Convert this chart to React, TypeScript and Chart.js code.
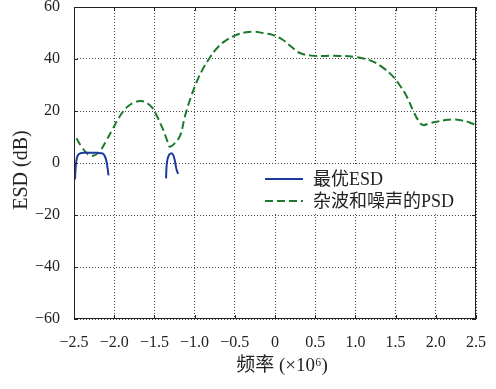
import React, { useEffect, useRef } from "react";
import { Chart, registerables } from "chart.js";

Chart.register(...registerables);

const FONT = "'Liberation Serif','Noto Sans CJK SC',serif";

const xTicks = [-2.5, -2.0, -1.5, -1.0, -0.5, 0, 0.5, 1.0, 1.5, 2.0, 2.5];
const yTicks = [-60, -40, -20, 0, 20, 40, 60];

const seriesNames = ["最优ESD", "杂波和噪声的PSD"];
const xTitle = "频率 (×10⁶)";
const yTitle = "ESD (dB)";

const greenX = [-2.47, -2.4, -2.33, -2.26, -2.18, -2.1, -2.02, -1.93, -1.84, -1.75, -1.66, -1.58, -1.52, -1.46, -1.39, -1.34, -1.31, -1.25, -1.18, -1.12, -1.05, -0.97, -0.9, -0.83, -0.74, -0.64, -0.5, -0.36, -0.27, -0.15, -0.02, 0.1, 0.2, 0.31, 0.45, 0.6, 0.8, 0.97, 1.1, 1.22, 1.35, 1.47, 1.56, 1.64, 1.72, 1.78, 1.84, 1.92, 2.01, 2.12, 2.22, 2.32, 2.42, 2.5];
const greenY = [9.5, 6, 3.5, 2.8, 4.5, 8.5, 13, 18, 21.5, 23.3, 23.8, 22.8, 21, 17.5, 12.7, 8.5, 6.3, 7.5, 10.5, 18, 25, 31.5, 36, 39.6, 43.5, 46.5, 49, 50.3, 50.5, 50, 49.2, 47.3, 44.8, 42.3, 41.3, 41.2, 41.2, 40.9, 40.2, 39, 36.5, 33.2, 29.5, 25.5, 20, 16.5, 14.6, 15.3, 15.9, 16.5, 16.8, 16.4, 15.6, 14.6];

const blueX = [-2.488, -2.48, -2.47, -2.455, -2.43, -2.38, -2.3, -2.2, -2.14, -2.115, -2.095, -2.08, -2.07, -1.7, -1.355, -1.35, -1.34, -1.32, -1.295, -1.27, -1.25, -1.235, -1.22, -1.205];
const blueY = [-6.3, -2, 1, 2.8, 3.6, 3.9, 3.9, 3.9, 3.6, 2.5, 0.5, -2.5, -4.8, null, -5.9, -2, 1, 3, 3.7, 3.3, 1.5, -1, -3, -4.2];

const BLUE = "#1f3a9e";
const GREEN = "#1b7a2b";

const fmt = (v: number) => {
  const a = Math.abs(v);
  const s = v === 0 ? "0" : a >= 10 ? String(a) : a.toFixed(1);
  return (v < 0 ? "\u2212" : "") + s;
};

const framePlugin = {
  id: "frame",
  afterDraw(chart: any) {
    const { ctx, chartArea } = chart;
    const { left, right, top, bottom } = chartArea;
    const xs = chart.scales.x;
    const ys = chart.scales.y;
    ctx.save();
    // legend
    const lx = 258, ly = 165, lw = right - 258 - 1, lh = 48;
    ctx.fillStyle = "#fff";
    ctx.fillRect(lx, ly, lw, lh);
    ctx.font = "18px " + FONT;
    ctx.textBaseline = "middle";
    const rows = [179, 201];
    const cols = [BLUE, GREEN];
    rows.forEach((ry, i) => {
      ctx.beginPath();
      ctx.strokeStyle = cols[i];
      ctx.lineWidth = 2;
      ctx.setLineDash(i === 1 ? [8, 4] : []);
      ctx.moveTo(265, ry);
      ctx.lineTo(303, ry);
      ctx.stroke();
      ctx.setLineDash([]);
      ctx.fillStyle = "#222";
      ctx.fillText(seriesNames[i], 313, ry + 1);
    });
    // frame
    ctx.strokeStyle = "#222";
    ctx.lineWidth = 1;
    ctx.strokeRect(left + 0.5, top + 0.5, right - left - 1, bottom - top - 1);
    ctx.beginPath();
    xTicks.forEach((t) => {
      const px = Math.round(xs.getPixelForValue(t)) + 0.5;
      ctx.moveTo(px, bottom);
      ctx.lineTo(px, bottom - 4);
      ctx.moveTo(px, top);
      ctx.lineTo(px, top + 4);
    });
    yTicks.forEach((t) => {
      const py = Math.round(ys.getPixelForValue(t)) + 0.5;
      ctx.moveTo(left, py);
      ctx.lineTo(left + 4, py);
      ctx.moveTo(right, py);
      ctx.lineTo(right - 4, py);
    });
    ctx.stroke();
    // axis titles
    ctx.fillStyle = "#222";
    ctx.font = "19px " + FONT;
    ctx.textAlign = "center";
    ctx.textBaseline = "middle";
    ctx.fillText(xTitle, (left + right) / 2 + 7, 366);
    ctx.save();
    ctx.translate(22, 170);
    ctx.rotate(-Math.PI / 2);
    ctx.font = "20px " + FONT;
    ctx.fillText(yTitle, 0, 0);
    ctx.restore();
    ctx.restore();
  },
};

export default function App() {
  const ref = useRef<HTMLCanvasElement>(null);
  useEffect(() => {
    const green = greenX.map((x, i) => ({ x, y: greenY[i] }));
    const blue = blueX.map((x, i) => ({ x, y: blueY[i] }));
    const chart = new Chart(ref.current as HTMLCanvasElement, {
      type: "line",
      data: {
        datasets: [
          {
            label: seriesNames[0],
            data: blue as any,
            borderColor: BLUE,
            borderWidth: 2,
            pointRadius: 0,
            tension: 0.3,
            spanGaps: false,
            fill: false,
          },
          {
            label: seriesNames[1],
            data: green as any,
            borderColor: GREEN,
            borderWidth: 2,
            borderDash: [8, 4],
            pointRadius: 0,
            tension: 0.4,
            fill: false,
          },
        ],
      },
      options: {
        animation: false,
        responsive: true,
        maintainAspectRatio: false,
        layout: { padding: { top: 7, right: 20, left: 0, bottom: 0 } },
        plugins: { legend: { display: false }, tooltip: { enabled: false } },
        scales: {
          x: {
            type: "linear",
            min: -2.5,
            max: 2.5,
            afterBuildTicks: (s: any) => {
              s.ticks = xTicks.map((v) => ({ value: v }));
            },
            afterFit: (s: any) => {
              s.height = 70;
              s.paddingLeft = 0;
              s.paddingRight = 0;
            },
            ticks: {
              padding: 14,
              maxRotation: 0,
              autoSkip: false,
              color: "#222",
              font: { family: FONT, size: 16 },
              callback: (v: any) => fmt(Number(v)),
            },
            grid: { color: "#444", lineWidth: 1, drawTicks: false },
            border: { display: false, dash: [1, 2] },
          },
          y: {
            type: "linear",
            min: -60,
            max: 60,
            afterBuildTicks: (s: any) => {
              s.ticks = yTicks.map((v) => ({ value: v }));
            },
            afterFit: (s: any) => {
              s.width = 74;
              s.paddingTop = 0;
              s.paddingBottom = 0;
            },
            ticks: {
              padding: 14,
              color: "#222",
              font: { family: FONT, size: 16 },
              callback: (v: any) => fmt(Number(v)),
            },
            grid: { color: "#444", lineWidth: 1, drawTicks: false },
            border: { display: false, dash: [1, 2] },
          },
        },
      },
      plugins: [framePlugin],
    });
    return () => chart.destroy();
  }, []);
  return (
    <div style={{ position: "fixed", left: 0, top: 0, width: 496, height: 389, background: "#fff" }}>
      <canvas ref={ref} />
    </div>
  );
}
